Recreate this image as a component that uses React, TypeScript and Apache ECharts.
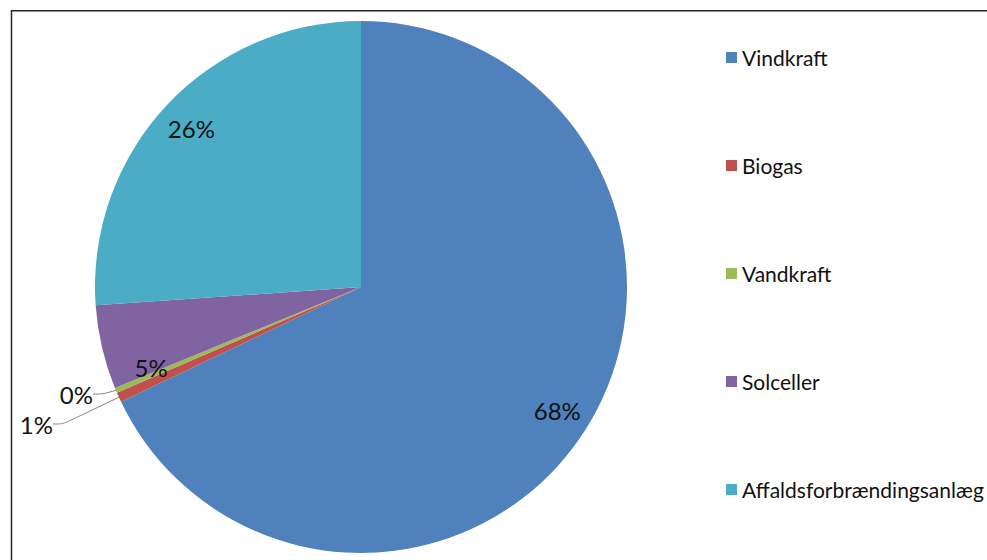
import React, { useEffect, useRef } from "react";
import * as echarts from "echarts";

const categories = ["Vindkraft", "Biogas", "Vandkraft", "Solceller", "Affaldsforbrændingsanlæg"];
const values = [67.9, 0.6, 0.3, 5.1, 26.1];
const colors = ["#4F81BD", "#C0504D", "#9BBB59", "#8064A2", "#4BACC6"];
const outsideLabels = [false, true, true, false, false];

const FONT = "Lato";

export default function App() {
  const ref = useRef<HTMLDivElement>(null);
  useEffect(() => {
    document.body.style.margin = "0";
    if (!ref.current) return;
    const chart = echarts.init(ref.current, undefined, { renderer: "svg" });
    const fmt = (p: any) => Math.round(p.percent) + "%";
    const mainData = categories.map((name, i) => ({
      name,
      value: values[i],
      itemStyle: { color: colors[i] },
      label: { show: outsideLabels[i] },
      labelLine: { show: outsideLabels[i] },
    }));
    const labelData = categories.map((name, i) => ({
      name,
      value: values[i],
      itemStyle: { color: "rgba(0,0,0,0)" },
      label: {
        show: !outsideLabels[i],
        offset: i === 3 ? [16, 28] : [0, 0],
      },
    }));
    chart.setOption({
      animation: false,
      backgroundColor: "#ffffff",
      graphic: [
        {
          type: "rect",
          shape: { x: 11.5, y: 10.8, width: 1100, height: 700 },
          style: { fill: "none", stroke: "#262626", lineWidth: 1.5 },
          z: 100,
        },
      ],
      legend: {
        orient: "vertical",
        left: 721,
        top: 42,
        icon: "rect",
        itemWidth: 11,
        itemHeight: 11,
        itemGap: 87,
        textStyle: { fontFamily: FONT, fontSize: 21, lineHeight: 20, color: "#111111" },
        data: categories.map((name, i) => ({ name, itemStyle: { color: colors[i] } })),
      },
      series: [
        {
          type: "pie",
          center: [361, 287],
          radius: [0, 266],
          startAngle: 90,
          clockwise: true,
          avoidLabelOverlap: false,
          itemStyle: { borderWidth: 0 },
          emphasis: { disabled: true },
          data: mainData,
          label: {
            position: "outside",
            formatter: fmt,
            fontFamily: FONT,
            fontSize: 24,
            color: "#111111",
          },
          labelLine: {
            length: 6,
            length2: 10,
            smooth: 0.3,
            lineStyle: { color: "#7f7f7f", width: 1 },
          },
          labelLayout: (params: any) => {
            if (params.dataIndex === 1) {
              return { x: 53, y: 424, align: "right", verticalAlign: "middle" };
            }
            if (params.dataIndex === 2) {
              return { x: 93, y: 394, align: "right", verticalAlign: "middle" };
            }
            return {};
          },
        },
        {
          type: "pie",
          center: [361, 287],
          radius: [192, 266],
          startAngle: 90,
          clockwise: true,
          silent: true,
          avoidLabelOverlap: false,
          itemStyle: { borderWidth: 0 },
          emphasis: { disabled: true },
          data: labelData,
          label: {
            position: "inside",
            formatter: fmt,
            fontFamily: FONT,
            fontSize: 24,
            color: "#111111",
          },
          labelLine: { show: false },
        },
      ],
    });
    return () => chart.dispose();
  }, []);
  return <div ref={ref} style={{ width: 987, height: 560 }} />;
}
